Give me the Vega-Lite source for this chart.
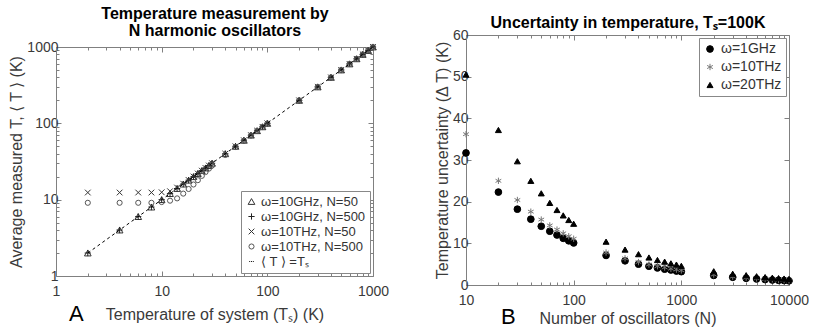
{
  "$schema": "https://vega.github.io/schema/vega-lite/v6.json",
  "background": "white",
  "padding": {"left": 8, "top": 5, "right": 0, "bottom": 0},
  "spacing": 45,
  "resolve": {
    "scale": {"shape": "independent", "color": "independent", "fill": "independent", "stroke": "independent", "size": "independent"},
    "legend": {"shape": "independent", "color": "independent", "fill": "independent", "stroke": "independent", "size": "independent"}
  },
  "datasets": {
    "left": [
      {"T": 2, "M": 2.0, "series": "ω=10GHz, N=50"}, {"T": 4, "M": 4.0, "series": "ω=10GHz, N=50"}, {"T": 6, "M": 6.0, "series": "ω=10GHz, N=50"}, {"T": 8, "M": 8.0, "series": "ω=10GHz, N=50"}, {"T": 10, "M": 10.0, "series": "ω=10GHz, N=50"}, {"T": 12, "M": 12.0, "series": "ω=10GHz, N=50"}, {"T": 14, "M": 14.0, "series": "ω=10GHz, N=50"}, {"T": 16, "M": 16.0, "series": "ω=10GHz, N=50"}, {"T": 18, "M": 18.0, "series": "ω=10GHz, N=50"}, {"T": 20, "M": 20.0, "series": "ω=10GHz, N=50"}, {"T": 22, "M": 22.0, "series": "ω=10GHz, N=50"}, {"T": 24, "M": 24.0, "series": "ω=10GHz, N=50"}, {"T": 26, "M": 26.0, "series": "ω=10GHz, N=50"}, {"T": 28, "M": 28.0, "series": "ω=10GHz, N=50"}, {"T": 30, "M": 30.0, "series": "ω=10GHz, N=50"}, {"T": 40, "M": 40.0, "series": "ω=10GHz, N=50"}, {"T": 50, "M": 50.0, "series": "ω=10GHz, N=50"}, {"T": 60, "M": 60.0, "series": "ω=10GHz, N=50"}, {"T": 70, "M": 70.0, "series": "ω=10GHz, N=50"}, {"T": 80, "M": 80.0, "series": "ω=10GHz, N=50"}, {"T": 90, "M": 90.0, "series": "ω=10GHz, N=50"}, {"T": 100, "M": 100.0, "series": "ω=10GHz, N=50"}, {"T": 200, "M": 200.0, "series": "ω=10GHz, N=50"}, {"T": 300, "M": 300.0, "series": "ω=10GHz, N=50"}, {"T": 400, "M": 400.0, "series": "ω=10GHz, N=50"}, {"T": 500, "M": 500.0, "series": "ω=10GHz, N=50"}, {"T": 600, "M": 600.0, "series": "ω=10GHz, N=50"}, {"T": 700, "M": 700.0, "series": "ω=10GHz, N=50"}, {"T": 800, "M": 800.0, "series": "ω=10GHz, N=50"}, {"T": 900, "M": 900.0, "series": "ω=10GHz, N=50"}, {"T": 1000, "M": 1000.0, "series": "ω=10GHz, N=50"},
      {"T": 2, "M": 2.0, "series": "ω=10GHz, N=500"}, {"T": 4, "M": 4.0, "series": "ω=10GHz, N=500"}, {"T": 6, "M": 6.0, "series": "ω=10GHz, N=500"}, {"T": 8, "M": 8.0, "series": "ω=10GHz, N=500"}, {"T": 10, "M": 10.0, "series": "ω=10GHz, N=500"}, {"T": 12, "M": 12.0, "series": "ω=10GHz, N=500"}, {"T": 14, "M": 14.0, "series": "ω=10GHz, N=500"}, {"T": 16, "M": 16.0, "series": "ω=10GHz, N=500"}, {"T": 18, "M": 18.0, "series": "ω=10GHz, N=500"}, {"T": 20, "M": 20.0, "series": "ω=10GHz, N=500"}, {"T": 22, "M": 22.0, "series": "ω=10GHz, N=500"}, {"T": 24, "M": 24.0, "series": "ω=10GHz, N=500"}, {"T": 26, "M": 26.0, "series": "ω=10GHz, N=500"}, {"T": 28, "M": 28.0, "series": "ω=10GHz, N=500"}, {"T": 30, "M": 30.0, "series": "ω=10GHz, N=500"}, {"T": 40, "M": 40.0, "series": "ω=10GHz, N=500"}, {"T": 50, "M": 50.0, "series": "ω=10GHz, N=500"}, {"T": 60, "M": 60.0, "series": "ω=10GHz, N=500"}, {"T": 70, "M": 70.0, "series": "ω=10GHz, N=500"}, {"T": 80, "M": 80.0, "series": "ω=10GHz, N=500"}, {"T": 90, "M": 90.0, "series": "ω=10GHz, N=500"}, {"T": 100, "M": 100.0, "series": "ω=10GHz, N=500"}, {"T": 200, "M": 200.0, "series": "ω=10GHz, N=500"}, {"T": 300, "M": 300.0, "series": "ω=10GHz, N=500"}, {"T": 400, "M": 400.0, "series": "ω=10GHz, N=500"}, {"T": 500, "M": 500.0, "series": "ω=10GHz, N=500"}, {"T": 600, "M": 600.0, "series": "ω=10GHz, N=500"}, {"T": 700, "M": 700.0, "series": "ω=10GHz, N=500"}, {"T": 800, "M": 800.0, "series": "ω=10GHz, N=500"}, {"T": 900, "M": 900.0, "series": "ω=10GHz, N=500"}, {"T": 1000, "M": 1000.0, "series": "ω=10GHz, N=500"},
      {"T": 2, "M": 12.4, "series": "ω=10THz, N=50"}, {"T": 4, "M": 12.4, "series": "ω=10THz, N=50"}, {"T": 6, "M": 12.4, "series": "ω=10THz, N=50"}, {"T": 8, "M": 12.4, "series": "ω=10THz, N=50"}, {"T": 10, "M": 12.5, "series": "ω=10THz, N=50"}, {"T": 12, "M": 12.9, "series": "ω=10THz, N=50"}, {"T": 14, "M": 14.4, "series": "ω=10THz, N=50"}, {"T": 16, "M": 16.2, "series": "ω=10THz, N=50"}, {"T": 18, "M": 18.1, "series": "ω=10THz, N=50"}, {"T": 20, "M": 20.1, "series": "ω=10THz, N=50"}, {"T": 22, "M": 22.0, "series": "ω=10THz, N=50"}, {"T": 24, "M": 24.0, "series": "ω=10THz, N=50"}, {"T": 26, "M": 26.0, "series": "ω=10THz, N=50"}, {"T": 28, "M": 28.0, "series": "ω=10THz, N=50"}, {"T": 30, "M": 30.0, "series": "ω=10THz, N=50"}, {"T": 40, "M": 40.0, "series": "ω=10THz, N=50"}, {"T": 50, "M": 50.0, "series": "ω=10THz, N=50"}, {"T": 60, "M": 60.0, "series": "ω=10THz, N=50"}, {"T": 70, "M": 70.0, "series": "ω=10THz, N=50"}, {"T": 80, "M": 80.0, "series": "ω=10THz, N=50"}, {"T": 90, "M": 90.0, "series": "ω=10THz, N=50"}, {"T": 100, "M": 100.0, "series": "ω=10THz, N=50"}, {"T": 200, "M": 200.0, "series": "ω=10THz, N=50"}, {"T": 300, "M": 300.0, "series": "ω=10THz, N=50"}, {"T": 400, "M": 400.0, "series": "ω=10THz, N=50"}, {"T": 500, "M": 500.0, "series": "ω=10THz, N=50"}, {"T": 600, "M": 600.0, "series": "ω=10THz, N=50"}, {"T": 700, "M": 700.0, "series": "ω=10THz, N=50"}, {"T": 800, "M": 800.0, "series": "ω=10THz, N=50"}, {"T": 900, "M": 900.0, "series": "ω=10THz, N=50"}, {"T": 1000, "M": 1000.0, "series": "ω=10THz, N=50"},
      {"T": 2, "M": 9.1, "series": "ω=10THz, N=500"}, {"T": 4, "M": 9.1, "series": "ω=10THz, N=500"}, {"T": 6, "M": 9.1, "series": "ω=10THz, N=500"}, {"T": 8, "M": 9.1, "series": "ω=10THz, N=500"}, {"T": 10, "M": 9.3, "series": "ω=10THz, N=500"}, {"T": 12, "M": 9.7, "series": "ω=10THz, N=500"}, {"T": 14, "M": 10.4, "series": "ω=10THz, N=500"}, {"T": 16, "M": 12.0, "series": "ω=10THz, N=500"}, {"T": 18, "M": 13.8, "series": "ω=10THz, N=500"}, {"T": 20, "M": 15.8, "series": "ω=10THz, N=500"}, {"T": 22, "M": 18.0, "series": "ω=10THz, N=500"}, {"T": 24, "M": 20.5, "series": "ω=10THz, N=500"}, {"T": 26, "M": 23.0, "series": "ω=10THz, N=500"}, {"T": 28, "M": 25.5, "series": "ω=10THz, N=500"}, {"T": 30, "M": 28.0, "series": "ω=10THz, N=500"}, {"T": 40, "M": 38.5, "series": "ω=10THz, N=500"}, {"T": 50, "M": 49.0, "series": "ω=10THz, N=500"}, {"T": 60, "M": 59.0, "series": "ω=10THz, N=500"}, {"T": 70, "M": 69.5, "series": "ω=10THz, N=500"}, {"T": 80, "M": 79.5, "series": "ω=10THz, N=500"}, {"T": 90, "M": 89.5, "series": "ω=10THz, N=500"}, {"T": 100, "M": 99.5, "series": "ω=10THz, N=500"}, {"T": 200, "M": 200.0, "series": "ω=10THz, N=500"}, {"T": 300, "M": 300.0, "series": "ω=10THz, N=500"}, {"T": 400, "M": 400.0, "series": "ω=10THz, N=500"}, {"T": 500, "M": 500.0, "series": "ω=10THz, N=500"}, {"T": 600, "M": 600.0, "series": "ω=10THz, N=500"}, {"T": 700, "M": 700.0, "series": "ω=10THz, N=500"}, {"T": 800, "M": 800.0, "series": "ω=10THz, N=500"}, {"T": 900, "M": 900.0, "series": "ω=10THz, N=500"}, {"T": 1000, "M": 1000.0, "series": "ω=10THz, N=500"}
    ],
    "leftline": [{"T": 2, "M": 2}, {"T": 1000, "M": 1000}],
    "right": [
      {"N": 10, "dT": 31.7, "series": "ω=1GHz"}, {"N": 20, "dT": 22.3, "series": "ω=1GHz"}, {"N": 30, "dT": 18.2, "series": "ω=1GHz"}, {"N": 40, "dT": 15.8, "series": "ω=1GHz"}, {"N": 50, "dT": 14.1, "series": "ω=1GHz"}, {"N": 60, "dT": 12.9, "series": "ω=1GHz"}, {"N": 70, "dT": 12.0, "series": "ω=1GHz"}, {"N": 80, "dT": 11.2, "series": "ω=1GHz"}, {"N": 90, "dT": 10.6, "series": "ω=1GHz"}, {"N": 100, "dT": 10.1, "series": "ω=1GHz"}, {"N": 200, "dT": 7.1, "series": "ω=1GHz"}, {"N": 300, "dT": 5.8, "series": "ω=1GHz"}, {"N": 400, "dT": 5.0, "series": "ω=1GHz"}, {"N": 500, "dT": 4.5, "series": "ω=1GHz"}, {"N": 600, "dT": 4.1, "series": "ω=1GHz"}, {"N": 700, "dT": 3.8, "series": "ω=1GHz"}, {"N": 800, "dT": 3.6, "series": "ω=1GHz"}, {"N": 900, "dT": 3.35, "series": "ω=1GHz"}, {"N": 1000, "dT": 3.2, "series": "ω=1GHz"}, {"N": 2000, "dT": 2.3, "series": "ω=1GHz"}, {"N": 3000, "dT": 1.85, "series": "ω=1GHz"}, {"N": 4000, "dT": 1.6, "series": "ω=1GHz"}, {"N": 5000, "dT": 1.45, "series": "ω=1GHz"}, {"N": 6000, "dT": 1.3, "series": "ω=1GHz"}, {"N": 7000, "dT": 1.2, "series": "ω=1GHz"}, {"N": 8000, "dT": 1.12, "series": "ω=1GHz"}, {"N": 9000, "dT": 1.06, "series": "ω=1GHz"}, {"N": 10000, "dT": 1.0, "series": "ω=1GHz"},
      {"N": 10, "dT": 36.2, "series": "ω=10THz"}, {"N": 20, "dT": 25.0, "series": "ω=10THz"}, {"N": 30, "dT": 20.4, "series": "ω=10THz"}, {"N": 40, "dT": 17.6, "series": "ω=10THz"}, {"N": 50, "dT": 15.7, "series": "ω=10THz"}, {"N": 60, "dT": 14.3, "series": "ω=10THz"}, {"N": 70, "dT": 13.3, "series": "ω=10THz"}, {"N": 80, "dT": 12.4, "series": "ω=10THz"}, {"N": 90, "dT": 11.7, "series": "ω=10THz"}, {"N": 100, "dT": 11.1, "series": "ω=10THz"}, {"N": 200, "dT": 7.8, "series": "ω=10THz"}, {"N": 300, "dT": 6.4, "series": "ω=10THz"}, {"N": 400, "dT": 5.5, "series": "ω=10THz"}, {"N": 500, "dT": 4.9, "series": "ω=10THz"}, {"N": 600, "dT": 4.5, "series": "ω=10THz"}, {"N": 700, "dT": 4.2, "series": "ω=10THz"}, {"N": 800, "dT": 3.9, "series": "ω=10THz"}, {"N": 900, "dT": 3.7, "series": "ω=10THz"}, {"N": 1000, "dT": 3.5, "series": "ω=10THz"}, {"N": 2000, "dT": 2.5, "series": "ω=10THz"}, {"N": 3000, "dT": 2.0, "series": "ω=10THz"}, {"N": 4000, "dT": 1.75, "series": "ω=10THz"}, {"N": 5000, "dT": 1.57, "series": "ω=10THz"}, {"N": 6000, "dT": 1.43, "series": "ω=10THz"}, {"N": 7000, "dT": 1.33, "series": "ω=10THz"}, {"N": 8000, "dT": 1.24, "series": "ω=10THz"}, {"N": 9000, "dT": 1.17, "series": "ω=10THz"}, {"N": 10000, "dT": 1.11, "series": "ω=10THz"},
      {"N": 10, "dT": 50.5, "series": "ω=20THz"}, {"N": 20, "dT": 37.2, "series": "ω=20THz"}, {"N": 30, "dT": 29.7, "series": "ω=20THz"}, {"N": 40, "dT": 25.0, "series": "ω=20THz"}, {"N": 50, "dT": 22.0, "series": "ω=20THz"}, {"N": 60, "dT": 19.7, "series": "ω=20THz"}, {"N": 70, "dT": 18.0, "series": "ω=20THz"}, {"N": 80, "dT": 16.7, "series": "ω=20THz"}, {"N": 90, "dT": 15.6, "series": "ω=20THz"}, {"N": 100, "dT": 14.7, "series": "ω=20THz"}, {"N": 200, "dT": 10.4, "series": "ω=20THz"}, {"N": 300, "dT": 8.5, "series": "ω=20THz"}, {"N": 400, "dT": 7.4, "series": "ω=20THz"}, {"N": 500, "dT": 6.6, "series": "ω=20THz"}, {"N": 600, "dT": 6.0, "series": "ω=20THz"}, {"N": 700, "dT": 5.6, "series": "ω=20THz"}, {"N": 800, "dT": 5.2, "series": "ω=20THz"}, {"N": 900, "dT": 4.9, "series": "ω=20THz"}, {"N": 1000, "dT": 4.6, "series": "ω=20THz"}, {"N": 2000, "dT": 3.3, "series": "ω=20THz"}, {"N": 3000, "dT": 2.7, "series": "ω=20THz"}, {"N": 4000, "dT": 2.35, "series": "ω=20THz"}, {"N": 5000, "dT": 2.1, "series": "ω=20THz"}, {"N": 6000, "dT": 1.9, "series": "ω=20THz"}, {"N": 7000, "dT": 1.75, "series": "ω=20THz"}, {"N": 8000, "dT": 1.65, "series": "ω=20THz"}, {"N": 9000, "dT": 1.55, "series": "ω=20THz"}, {"N": 10000, "dT": 1.47, "series": "ω=20THz"}
    ]
  },
  "hconcat": [
    {
      "width": 317,
      "height": 241,
      "title": {"text": "A", "orient": "bottom", "anchor": "start", "frame": "group", "fontSize": 22, "fontWeight": "normal", "font": "Liberation Sans", "color": "black", "offset": -18, "dx": 13},
      "layer": [
        {
          "data": {"name": "left"},
          "mark": {"type": "point", "filled": false, "strokeWidth": 1, "opacity": 1},
          "encoding": {
            "x": {"field": "T", "type": "quantitative", "scale": {"type": "log", "domain": [1, 1000], "nice": false},
              "axis": {"orient": "bottom", "title": "Temperature of system (Tₛ) (K)", "titlePadding": 6, "labelPadding": 13,
                "values": [1,2,3,4,5,6,7,8,9,10,20,30,40,50,60,70,80,90,100,200,300,400,500,600,700,800,900,1000],
                "labelExpr": "indexof([1,10,100,1000], datum.value) >= 0 ? format(datum.value, 'd') : ''",
                "tickSize": {"condition": {"test": "indexof([1,10,100,1000], datum.value) >= 0", "value": -5}, "value": -3}}},
            "y": {"field": "M", "type": "quantitative", "scale": {"type": "log", "domain": [1, 1000], "nice": false, "range": [241, 12]},
              "axis": {"orient": "left", "title": "Average measured T, ⟨ T ⟩ (K)", "titlePadding": 2, "labelPadding": 3,
                "values": [1,2,3,4,5,6,7,8,9,10,20,30,40,50,60,70,80,90,100,200,300,400,500,600,700,800,900,1000],
                "labelExpr": "indexof([1,10,100,1000], datum.value) >= 0 ? format(datum.value, 'd') : ''",
                "tickSize": {"condition": {"test": "indexof([1,10,100,1000], datum.value) >= 0", "value": -5}, "value": -3}}},
            "shape": {"field": "series", "type": "nominal",
              "scale": {"domain": ["ω=10GHz, N=50", "ω=10GHz, N=500", "ω=10THz, N=50", "ω=10THz, N=500", "⟨ T ⟩ =Tₛ"],
                "range": ["triangle-up", "M-1,0L1,0M0,-1L0,1", "M-1,-1L1,1M-1,1L1,-1", "circle", "M-1,0L-0.6,0M-0.2,0L0.2,0M0.6,0L1,0"]},
              "legend": {"title": null, "orient": "bottom-right", "offset": 3, "strokeColor": "#888888", "fillColor": "white", "padding": 4, "rowPadding": 1, "labelFontSize": 13, "labelFont": "Liberation Sans", "labelColor": "#333333", "symbolStrokeWidth": 1, "labelLimit": 300, "labelOffset": 3}},
            "color": {"field": "series", "type": "nominal",
              "scale": {"domain": ["ω=10GHz, N=50", "ω=10GHz, N=500", "ω=10THz, N=50", "ω=10THz, N=500", "⟨ T ⟩ =Tₛ"],
                "range": ["#333333", "#222222", "#333333", "#555555", "#000000"]}},
            "size": {"field": "series", "type": "nominal",
              "scale": {"domain": ["ω=10GHz, N=50", "ω=10GHz, N=500", "ω=10THz, N=50", "ω=10THz, N=500", "⟨ T ⟩ =Tₛ"],
                "range": [45, 20, 16, 45, 110]}}
          }
        },
        {
          "data": {"name": "leftline"},
          "mark": {"type": "line", "color": "black", "strokeDash": [3, 3], "strokeWidth": 1},
          "encoding": {
            "x": {"field": "T", "type": "quantitative", "scale": {"type": "log", "domain": [1, 1000], "nice": false},
              "axis": {"orient": "top", "offset": -12, "title": ["Temperature measurement by", "N harmonic oscillators"], "titleFontWeight": "bold", "titleColor": "black", "titleFontSize": 16, "titleLineHeight": 17, "titlePadding": 8, "labels": false,
                "values": [1,2,3,4,5,6,7,8,9,10,20,30,40,50,60,70,80,90,100,200,300,400,500,600,700,800,900,1000],
                "tickSize": {"condition": {"test": "indexof([1,10,100,1000], datum.value) >= 0", "value": -5}, "value": -3}}},
            "y": {"field": "M", "type": "quantitative", "scale": {"type": "log", "domain": [1, 1000], "nice": false, "range": [241, 12]},
              "axis": {"orient": "right", "title": null, "labels": false,
                "values": [1,2,3,4,5,6,7,8,9,10,20,30,40,50,60,70,80,90,100,200,300,400,500,600,700,800,900,1000],
                "tickSize": {"condition": {"test": "indexof([1,10,100,1000], datum.value) >= 0", "value": -5}, "value": -3}}}
          }
        }
      ],
      "resolve": {"axis": {"x": "independent", "y": "independent"}}
    },
    {
      "width": 323,
      "height": 250,
      "title": {"text": "B", "orient": "bottom", "anchor": "start", "frame": "group", "fontSize": 22, "fontWeight": "normal", "font": "Liberation Sans", "color": "black", "offset": -19, "dx": 35},
      "data": {"name": "right"},
      "layer": [
        {
          "transform": [{"filter": "datum.series != 'ω=20THz'"}],
          "mark": {"type": "point", "strokeWidth": 1, "opacity": 1},
          "encoding": {
            "x": {"field": "N", "type": "quantitative", "scale": {"type": "log", "domain": [10, 10000], "nice": false},
              "axis": {"orient": "bottom", "title": "Number of oscillators (N)", "titlePadding": 1, "labelPadding": 13,
                "values": [10,20,30,40,50,60,70,80,90,100,200,300,400,500,600,700,800,900,1000,2000,3000,4000,5000,6000,7000,8000,9000,10000],
                "labelExpr": "indexof([10,100,1000,10000], datum.value) >= 0 ? format(datum.value, 'd') : ''",
                "tickSize": {"condition": {"test": "indexof([10,100,1000,10000], datum.value) >= 0", "value": -5}, "value": -3}}},
            "y": {"field": "dT", "type": "quantitative", "scale": {"domain": [0, 60], "nice": false},
              "axis": {"orient": "left", "title": "Temperature uncertainty (Δ T) (K)", "titlePadding": 2, "labelPadding": 3, "values": [0,10,20,30,40,50,60], "tickSize": -5}},
            "shape": {"field": "series", "type": "nominal",
              "scale": {"domain": ["ω=1GHz", "ω=10THz", "ω=20THz"], "range": ["circle", "M0,-1L0,1M-0.9,-0.5L0.9,0.5M-0.9,0.5L0.9,-0.5", "triangle-up"]},
              "legend": {"title": null, "orient": "top-right", "offset": 3, "strokeColor": "#888888", "fillColor": "white", "padding": 4, "rowPadding": 4, "labelFontSize": 14, "labelFont": "Liberation Sans", "labelColor": "#333333", "symbolStrokeWidth": 1, "labelOffset": 4}},
            "fill": {"field": "series", "type": "nominal", "scale": {"domain": ["ω=1GHz", "ω=10THz", "ω=20THz"], "range": ["#000000", "transparent", "#000000"]}},
            "stroke": {"field": "series", "type": "nominal", "scale": {"domain": ["ω=1GHz", "ω=10THz", "ω=20THz"], "range": ["#000000", "#777777", "#000000"]}},
            "size": {"field": "series", "type": "nominal", "scale": {"domain": ["ω=1GHz", "ω=10THz", "ω=20THz"], "range": [45, 36, 45]}}
          }
        },
        {
          "transform": [{"filter": "datum.series == 'ω=20THz'"}],
          "mark": {"type": "point", "strokeWidth": 1, "opacity": 1},
          "encoding": {
            "x": {"field": "N", "type": "quantitative", "scale": {"type": "log", "domain": [10, 10000], "nice": false},
              "axis": {"orient": "top", "title": "Uncertainty in temperature, Tₛ=100K", "titleFontWeight": "bold", "titleColor": "black", "titleFontSize": 16, "titlePadding": 4, "labels": false,
                "values": [10,20,30,40,50,60,70,80,90,100,200,300,400,500,600,700,800,900,1000,2000,3000,4000,5000,6000,7000,8000,9000,10000],
                "tickSize": {"condition": {"test": "indexof([10,100,1000,10000], datum.value) >= 0", "value": -5}, "value": -3}}},
            "y": {"field": "dT", "type": "quantitative", "scale": {"domain": [0, 60], "nice": false},
              "axis": {"orient": "right", "title": null, "labels": false, "values": [0,10,20,30,40,50,60], "tickSize": -5}},
            "shape": {"field": "series", "type": "nominal"},
            "fill": {"field": "series", "type": "nominal"},
            "stroke": {"field": "series", "type": "nominal"},
            "size": {"field": "series", "type": "nominal"}
          }
        }
      ],
      "resolve": {"axis": {"x": "independent", "y": "independent"}}
    }
  ],
  "config": {
    "view": {"stroke": null},
    "font": "Liberation Sans",
    "axis": {
      "domainColor": "#808080", "tickColor": "#808080", "grid": false,
      "labelFont": "Liberation Sans", "labelFontSize": 14, "labelColor": "#3a3a3a",
      "titleFont": "Liberation Sans", "titleFontSize": 16, "titleFontWeight": "normal", "titleColor": "#3a3a3a",
      "labelFlush": false, "labelOverlap": false, "labelBound": false, "labelPadding": 9
    }
  }
}
